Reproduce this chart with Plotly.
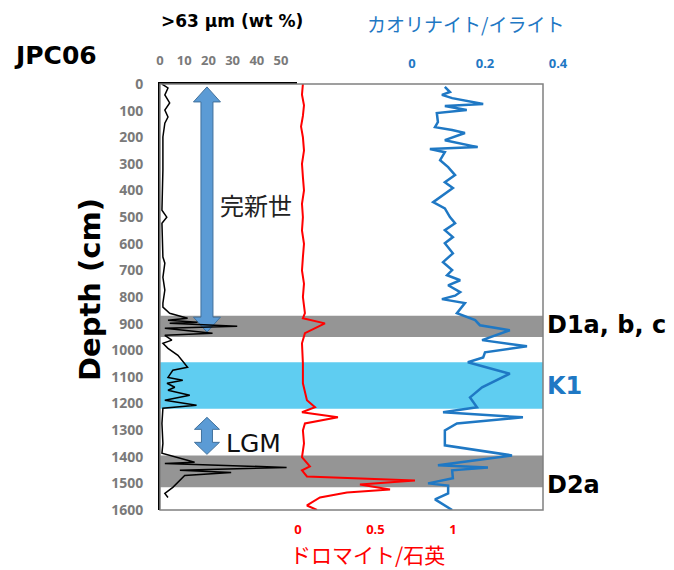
import plotly.graph_objects as go

# ---------------- data ----------------
sand_depth = [0, 15, 41, 71, 98, 124, 147, 199, 323, 474, 500, 523, 650, 673, 726,
              774, 823, 838, 861, 880, 887, 895, 899, 910, 917, 936, 944, 962, 974, 993,
              1019, 1064, 1075, 1102, 1113, 1124, 1139, 1150, 1169, 1188, 1207, 1218, 1275, 1350, 1387,
              1421, 1425, 1440, 1451, 1459, 1470, 1489, 1515, 1538, 1553]
sand_pct = [0.8, 3.3, 2.0, 4.0, 2.0, 3.3, 2.0, 1.2, 1.2, 0.8, 2.8, 0.8, 1.2, 2.0, 1.2,
            2.0, 1.2, 1.2, 4.0, 11.4, 3.3, 15.5, 4.0, 31.9, 2.0, 21.7, 2.0, 4.9, 1.2, 3.3,
            7.4, 11.4, 5.3, 3.3, 9.4, 2.9, 6.1, 3.3, 12.3, 2.0, 15.1, 1.2, 0.8, 1.2, 0.8,
            14.3, 2.0, 52.3, 8.2, 29.4, 10.2, 8.2, 5.3, 2.0, 3.3]

dol_depth = [0, 40, 80, 120, 160, 200, 250, 300, 350, 400, 450, 500, 550, 600, 650,
             700, 750, 800, 861, 880, 899, 936, 974, 1050, 1124, 1188, 1214, 1233, 1252, 1275,
             1301, 1350, 1402, 1436, 1451, 1474, 1489, 1504, 1523, 1534, 1553, 1583, 1600]
dol_ratio = [0.032, 0.026, 0.039, 0.032, 0.020, 0.032, 0.039, 0.026, 0.032, 0.039, 0.026, 0.032, 0.026, 0.039, 0.032,
             0.026, 0.039, 0.032, 0.045, 0.032, 0.174, 0.045, 0.026, 0.032, 0.032, 0.058, 0.110, 0.026, 0.258, 0.045,
             0.032, 0.039, 0.026, 0.077, 0.026, 0.058, 0.755, 0.400, 0.594, 0.316, 0.142, 0.058, 0.123]

kao_depth = [11, 30, 41, 53, 75, 83, 98, 109, 143, 162, 173, 184, 211, 237, 244,
             256, 286, 312, 342, 369, 391, 418, 444, 467, 500, 523, 549, 575, 598, 636,
             669, 699, 718, 737, 756, 782, 795, 808, 823, 861, 887, 906, 925, 962, 985,
             1008, 1027, 1045, 1088, 1139, 1177, 1214, 1233, 1252, 1275, 1301, 1357, 1395, 1432, 1440,
             1451, 1481, 1500, 1508, 1538, 1560, 1600]
kao_ratio = [0.090, 0.104, 0.082, 0.110, 0.195, 0.090, 0.150, 0.068, 0.071, 0.063, 0.110, 0.145, 0.090, 0.180, 0.049,
             0.090, 0.077, 0.099, 0.118, 0.090, 0.112, 0.085, 0.058, 0.090, 0.104, 0.118, 0.090, 0.112, 0.090, 0.112,
             0.085, 0.110, 0.096, 0.132, 0.099, 0.132, 0.118, 0.082, 0.145, 0.123, 0.173, 0.186, 0.268, 0.192, 0.315,
             0.200, 0.195, 0.153, 0.268, 0.192, 0.159, 0.178, 0.085, 0.304, 0.123, 0.090, 0.090, 0.274, 0.071, 0.208,
             0.110, 0.112, 0.044, 0.099, 0.099, 0.063, 0.110]

depth_ticks = list(range(0, 1700, 100))
sand_ticks = [0, 10, 20, 30, 40, 50]
dol_ticks = [0, 0.5, 1]
kao_ticks = [0, 0.2, 0.4]

bands = [("D1a, b, c", 870, 950, "#959595", "#000000", 905),
         ("K1", 1045, 1220, "#5fcdf1", "#1f78c4", 1134),
         ("D2a", 1395, 1515, "#959595", "#000000", 1506)]

# ---------------- layout geometry ----------------
OFF = 8                      # page body margin of the html page
W, H = 674 - OFF, 570 - OFF
L, R, T, B = 160 - OFF, 104, 84 - OFF, 60
PW, PH = W - L - R, H - T - B
def px(sx):                  # screen x -> paper x
    return (sx - OFF - L) / PW
def py(sy):                  # screen y -> paper y
    return (H - B - (sy - OFF)) / PH

box_right = px(543)
sand_range = [0, 56.6]
sand_dom = [0, px(297)]
dol_range = [-0.890, 1.581]
kao_range = [(160 - 412) / 365, (570 - 412) / 365]

FONT = "Noto Sans"
BOLD = "DejaVu Sans"
CJK = "Noto Sans CJK JP"
GRAY = "#7a7a7a"
BLUE = "#1f78c4"
RED = "#ff0000"

fig = go.Figure()
fig.add_trace(go.Scatter(x=sand_pct, y=sand_depth, xaxis="x2", yaxis="y", mode="lines",
                         line=dict(color="black", width=1.5), showlegend=False))
fig.add_trace(go.Scatter(x=dol_ratio, y=dol_depth, xaxis="x4", yaxis="y", mode="lines",
                         line=dict(color=RED, width=2), showlegend=False))
fig.add_trace(go.Scatter(x=kao_ratio, y=kao_depth, xaxis="x3", yaxis="y", mode="lines",
                         line=dict(color=BLUE, width=2.5), showlegend=False))

shapes = []
annos = []
for name, d0, d1, fill, tcol, dl in bands:
    shapes.append(dict(type="rect", xref="x", yref="y", x0=0, x1=1, y0=d0, y1=d1,
                       fillcolor=fill, line=dict(width=0), layer="below"))
    annos.append(dict(text=name, xref="paper", yref="y", x=px(545), y=dl, xanchor="left",
                      yanchor="middle", showarrow=False,
                      font=dict(family=BOLD, size=24, color=tcol, weight="bold")))

# block arrows (drawn in the >63um axis units)
XPX = (sand_range[1] - sand_range[0]) / (297 - 160)   # units per px
YPX = 1600 / 426                                      # cm per px
def block_arrow(xc, dt, db, sh, hh, hl):
    s, h = sh * XPX, hh * XPX
    l = hl * YPX
    pts = [(xc, dt), (xc + h, dt + l), (xc + s, dt + l), (xc + s, db - l), (xc + h, db - l),
           (xc, db), (xc - h, db - l), (xc - s, db - l), (xc - s, dt + l), (xc - h, dt + l)]
    return "M " + " L ".join(f"{a:.3f},{b:.3f}" for a, b in pts) + " Z"

shapes.append(dict(type="path", xref="x2", yref="y", path=block_arrow(19.4, 11, 932, 6, 13.5, 15),
                   fillcolor="#5b9bd5", line=dict(color="#41719c", width=1), layer="below"))
shapes.append(dict(type="path", xref="x2", yref="y", path=block_arrow(19.4, 1252, 1391, 5.5, 12.5, 12),
                   fillcolor="#5b9bd5", line=dict(color="#41719c", width=1), layer="below"))
# plot frame
shapes.append(dict(type="rect", xref="x domain", yref="y domain", x0=0, x1=1, y0=0, y1=1,
                   line=dict(color="#808080", width=1.5), fillcolor="rgba(0,0,0,0)", layer="above"))

annos += [
    dict(text="JPC06", xref="paper", yref="paper", x=px(12), y=py(55), xanchor="left", yanchor="middle",
         showarrow=False, font=dict(family=BOLD, size=25, color="black", weight="bold")),
    dict(text=">63 µm (wt %)", xref="paper", yref="paper", x=px(232), y=py(21), xanchor="center",
         yanchor="middle", showarrow=False, font=dict(family=BOLD, size=17, color="black", weight="bold")),
    dict(text="カオリナイト/イライト", xref="paper", yref="paper", x=px(465), y=py(23), xanchor="center",
         yanchor="middle", showarrow=False, font=dict(family=CJK, size=19, color=BLUE)),
    dict(text="ドロマイト/石英", xref="paper", yref="paper", x=px(367), y=py(554), xanchor="center",
         yanchor="middle", showarrow=False, font=dict(family=CJK, size=21, color=RED)),
    dict(text="Depth (cm)", xref="paper", yref="paper", x=px(90), y=py(290), xanchor="center",
         yanchor="middle", textangle=-90, showarrow=False,
         font=dict(family=BOLD, size=29, color="black", weight="bold")),
    dict(text="完新世", xref="paper", yref="paper", x=px(256), y=py(204), xanchor="center",
         yanchor="middle", showarrow=False, font=dict(family=CJK, size=24, color="#222222")),
    dict(text="LGM", xref="paper", yref="paper", x=px(224), y=py(443), xanchor="left",
         yanchor="middle", showarrow=False, font=dict(family="DejaVu Sans", size=25, color="#111111")),
]

tickfont_gray = dict(family=FONT, size=13, color=GRAY, weight="bold")
fig.update_layout(
    width=W, height=H, margin=dict(l=L, r=R, t=T, b=B),
    paper_bgcolor="white", plot_bgcolor="rgba(0,0,0,0)",
    xaxis=dict(domain=[0, box_right], range=[0, 1], visible=False, fixedrange=True),
    yaxis=dict(range=[1600, 0], tickvals=depth_ticks, showgrid=False, zeroline=False,
               showline=True, linecolor="black", linewidth=2, ticks="", ticklabelstandoff=12,
               tickfont=dict(family=FONT, size=14, color=GRAY, weight="bold"), anchor="x"),
    xaxis2=dict(domain=sand_dom, range=sand_range, side="top", anchor="y", tickvals=sand_ticks,
                showgrid=False, zeroline=False, showline=True, linecolor="black", linewidth=2,
                ticks="", ticklabelstandoff=12, tickfont=tickfont_gray),
    xaxis3=dict(domain=[0, 1], range=kao_range, side="top", anchor="y", tickvals=kao_ticks,
                tickformat=".1~f", showgrid=False, zeroline=False, showline=False, ticks="",
                ticklabelstandoff=12, tickfont=dict(family=FONT, size=13, color=BLUE, weight="bold")),
    xaxis4=dict(overlaying="x", range=dol_range, side="bottom", anchor="y", tickvals=dol_ticks,
                showgrid=False, zeroline=False, showline=False, ticks="", ticklabelstandoff=10,
                tickfont=dict(family=FONT, size=13, color=RED, weight="bold")),
    shapes=shapes, annotations=annos, showlegend=False,
)

fig.write_html("out.html")
